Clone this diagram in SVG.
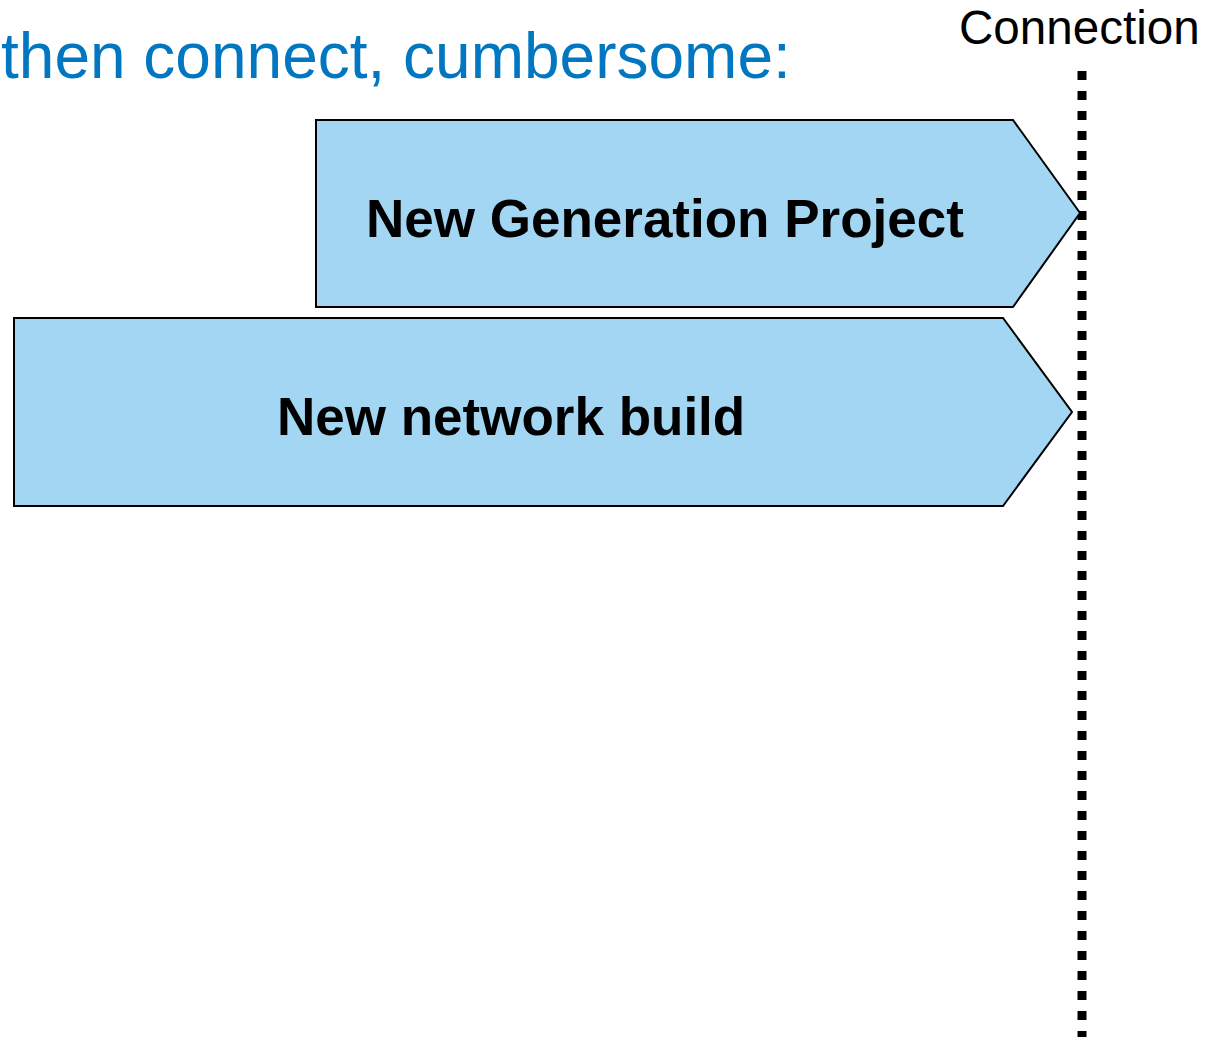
<svg xmlns="http://www.w3.org/2000/svg" width="1205" height="1037" viewBox="0 0 1205 1037">
  <style>
    .phase { fill: #A3D6F2; stroke: #000000; stroke-width: 2; stroke-linejoin: miter; }
    .phase-label { font-family: "Liberation Sans", Arial, sans-serif; font-weight: bold; font-size: 53px; fill: #000000; }
    .heading { font-family: "Liberation Sans", Arial, sans-serif; font-size: 64px; fill: #0077C0; }
    .marker-label { font-family: "Liberation Sans", Arial, sans-serif; font-size: 47.6px; fill: #000000; }
    .cutover { stroke: #000000; stroke-width: 9; stroke-dasharray: 9 11; fill: none; }
  </style>
  <rect width="1205" height="1037" fill="#FFFFFF"/>

  <text class="heading" x="1" y="78">then connect, cumbersome:</text>

  <g id="connection-marker">
    <text class="marker-label" x="959" y="44">Connection</text>
  </g>

  <g id="connectors">
    <line class="cutover" x1="1082" y1="71" x2="1082" y2="1037"/>
  </g>

  <g id="new-generation-project">
    <polygon class="phase" points="316,120 1013,120 1080,213 1013,307 316,307"/>
    <text class="phase-label" x="366" y="237">New Generation Project</text>
  </g>

  <g id="new-network-build">
    <polygon class="phase" points="14,318 1003,318 1072,412 1003,506 14,506"/>
    <text class="phase-label" x="277" y="435">New network build</text>
  </g>
</svg>
